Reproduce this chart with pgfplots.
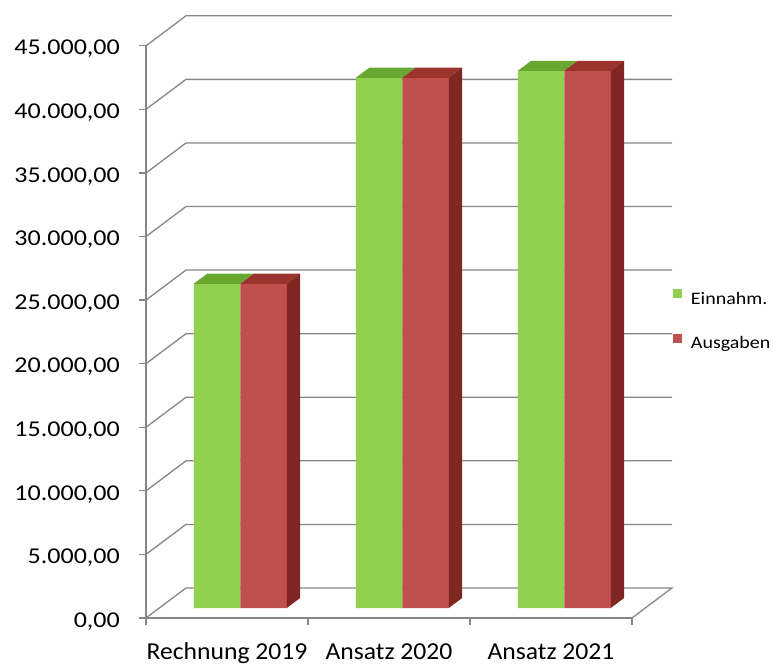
\documentclass[border=0pt]{standalone}
\usepackage{fontspec}
\setmainfont{Carlito}
\newfontfamily\tickfont{Carlito}[FakeStretch=1.15]
\newfontfamily\catfont{Carlito}[FakeStretch=1.055]
\newfontfamily\legfont{Carlito}[FakeStretch=1.14]
\usepackage{pgfplots}
\usepackage{pgfplotstable}
\pgfplotsset{compat=1.18}

\definecolor{ggreen}{RGB}{146,208,80}
\definecolor{ggreentop}{RGB}{104,168,48}
\definecolor{rred}{RGB}{192,80,77}
\definecolor{rredtop}{RGB}{156,52,46}
\definecolor{rredside}{RGB}{128,38,35}
\definecolor{gridc}{RGB}{134,134,134}

% values (front face heights)
\pgfplotstableread{
i E A
0 25500 25500
1 41700 41700
2 42250 42250
}\budget

\begin{document}
\begin{tikzpicture}
\begin{axis}[
  scale only axis, width=486bp, height=572.2bp,
  xmin=0, xmax=3, ymin=0, ymax=45000,
  clip=false,
  axis x line*=bottom, axis y line*=left,
  axis line style={-, draw=gridc, line width=1.3bp},
  tick align=outside, major tick length=7bp,
  tick style={draw=gridc, line width=1.3bp},
  ytick={0,5000,...,45000},
  scaled y ticks=false,
  /pgf/number format/fixed, /pgf/number format/fixed zerofill,
  /pgf/number format/precision=2, /pgf/number format/use comma,
  /pgf/number format/1000 sep={.}, /pgf/number format/assume math mode=true,
  yticklabel style={font=\tickfont\fontsize{22.7}{22.7}\selectfont, anchor=base east, inner sep=0pt, xshift=-19bp, yshift=-9.2bp},
  xtick={0,1,2,3}, xticklabels={},
  extra x ticks={0.5,1.5,2.5},
  extra x tick labels={Rechnung 2019,Ansatz 2020,Ansatz 2021},
  extra x tick style={major tick length=0pt, xticklabel style={font=\catfont\fontsize{24.4}{24.4}\selectfont, anchor=base, inner sep=0pt, yshift=-41bp}},
  legend style={at={(1.0837,0.519)}, anchor=west, draw=none, fill=none, inner sep=0pt, outer sep=0pt,
    font=\legfont\fontsize{17.6}{17.6}\selectfont,
    nodes={inner sep=0pt, text height=12bp, text depth=4bp},
    column sep=9.3bp, row sep=25.5bp},
  legend cell align=left,
  legend image code/.code={\fill[#1] (0bp,2bp) rectangle (9bp,11bp);},
]
% back wall, left wall and floor
\addplot[gridc, line width=1.3bp, no markers, forget plot] coordinates {(0,0) (0.2469,2360) (3.2469,2360) (3,0)};
\addplot[gridc, line width=1.3bp, no markers, forget plot] coordinates {(0,5000) (0.2469,7360) (3.2469,7360)};
\addplot[gridc, line width=1.3bp, no markers, forget plot] coordinates {(0,10000) (0.2469,12360) (3.2469,12360)};
\addplot[gridc, line width=1.3bp, no markers, forget plot] coordinates {(0,15000) (0.2469,17360) (3.2469,17360)};
\addplot[gridc, line width=1.3bp, no markers, forget plot] coordinates {(0,20000) (0.2469,22360) (3.2469,22360)};
\addplot[gridc, line width=1.3bp, no markers, forget plot] coordinates {(0,25000) (0.2469,27360) (3.2469,27360)};
\addplot[gridc, line width=1.3bp, no markers, forget plot] coordinates {(0,30000) (0.2469,32360) (3.2469,32360)};
\addplot[gridc, line width=1.3bp, no markers, forget plot] coordinates {(0,35000) (0.2469,37360) (3.2469,37360)};
\addplot[gridc, line width=1.3bp, no markers, forget plot] coordinates {(0,40000) (0.2469,42360) (3.2469,42360)};
\addplot[gridc, line width=1.3bp, no markers, forget plot] coordinates {(0,45000) (0.2469,47360) (3.2469,47360)};

% bar front faces (placed one third into the depth)
\addplot[ybar, bar width=46.5bp, bar shift=-23.25bp, fill=ggreen, draw=none, xshift=13.33bp, yshift=10bp, forget plot]
  table[x expr=\thisrow{i}+0.5, y=E] {\budget};
\addplot[ybar, bar width=46.5bp, bar shift=23.25bp, fill=rred, draw=none, xshift=13.33bp, yshift=10bp, forget plot]
  table[x expr=\thisrow{i}+0.5, y=A] {\budget};

% top faces
\addplot[fill=ggreentop, draw=none, no markers, xshift=13.33bp, yshift=10bp, forget plot] coordinates {(0.213,25500) (0.5,25500) (0.5823,26287) (0.2953,26287)};
\addplot[fill=ggreentop, draw=none, no markers, xshift=13.33bp, yshift=10bp, forget plot] coordinates {(1.213,41700) (1.5,41700) (1.5823,42487) (1.2953,42487)};
\addplot[fill=ggreentop, draw=none, no markers, xshift=13.33bp, yshift=10bp, forget plot] coordinates {(2.213,42250) (2.5,42250) (2.5823,43037) (2.2953,43037)};
\addplot[fill=rredtop, draw=none, no markers, xshift=13.33bp, yshift=10bp, forget plot] coordinates {(0.5,25500) (0.787,25500) (0.8693,26287) (0.5823,26287)};
\addplot[fill=rredtop, draw=none, no markers, xshift=13.33bp, yshift=10bp, forget plot] coordinates {(1.5,41700) (1.787,41700) (1.8693,42487) (1.5823,42487)};
\addplot[fill=rredtop, draw=none, no markers, xshift=13.33bp, yshift=10bp, forget plot] coordinates {(2.5,42250) (2.787,42250) (2.8693,43037) (2.5823,43037)};
% side faces
\addplot[fill=rredside, draw=none, no markers, xshift=13.33bp, yshift=10bp, forget plot] coordinates {(0.787,0) (0.787,25500) (0.8693,26287) (0.8693,787)};
\addplot[fill=rredside, draw=none, no markers, xshift=13.33bp, yshift=10bp, forget plot] coordinates {(1.787,0) (1.787,41700) (1.8693,42487) (1.8693,787)};
\addplot[fill=rredside, draw=none, no markers, xshift=13.33bp, yshift=10bp, forget plot] coordinates {(2.787,0) (2.787,42250) (2.8693,43037) (2.8693,787)};

\addlegendimage{fill=ggreen, draw=none}
\addlegendentry{Einnahm.}
\addlegendimage{fill=rred, draw=none}
\addlegendentry{Ausgaben}
\end{axis}
\pgfresetboundingbox
\useasboundingbox ([shift={(-146bp,-46bp)}]current axis.south west) rectangle ([shift={(627bp,618bp)}]current axis.south west);
\end{tikzpicture}
\end{document}
